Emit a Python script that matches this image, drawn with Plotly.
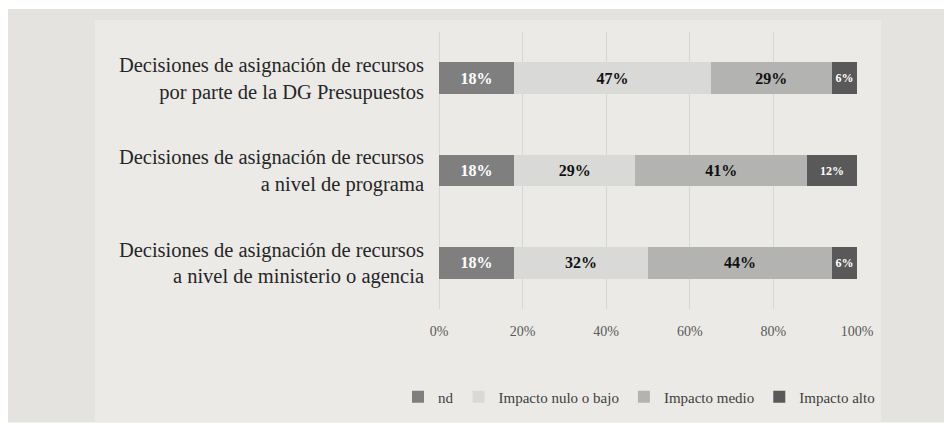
import plotly.graph_objects as go

categories = [
    "Decisiones de asignación de recursos<br>por parte de la DG Presupuestos",
    "Decisiones de asignación de recursos<br>a nivel de programa",
    "Decisiones de asignación de recursos<br>a nivel de ministerio o agencia",
]
series_names = ["nd", "Impacto nulo o bajo", "Impacto medio", "Impacto alto"]
nd = [18, 18, 18]
nulo_bajo = [47, 29, 32]
medio = [29, 41, 44]
alto = [6, 12, 6]
x_ticks = [0, 20, 40, 60, 80, 100]
x_tick_labels = ["0%", "20%", "40%", "60%", "80%", "100%"]

colors = ["#7f7f7f", "#d9d9d8", "#b3b3b1", "#595959"]
text_colors = ["#ffffff", "#111111", "#111111", "#ffffff"]
text_sizes = [16, 16, 16, 12]
FONT = "Liberation Serif"

W, H = 944, 424
L, R, T, B = 439, 857, 32, 310  # plot area in px


def px(x):
    return (x - L) / (R - L)


def py(y):
    return (B - y) / (B - T)


fig = go.Figure()
for name, vals, c, tc, ts in zip(series_names, [nd, nulo_bajo, medio, alto], colors, text_colors, text_sizes):
    fig.add_trace(go.Bar(
        y=categories, x=vals, name=name, orientation="h",
        marker=dict(color=c, line=dict(width=0)),
        text=[f"{v}%" for v in vals], textposition="inside",
        insidetextanchor="middle",
        textfont=dict(family=FONT, size=ts, color=tc, weight="bold"),
        hoverinfo="skip",
    ))

fig.update_layout(
    width=W, height=H,
    barmode="stack", bargap=0.655,
    paper_bgcolor="#ffffff", plot_bgcolor="rgba(0,0,0,0)",
    margin=dict(l=L, r=W - R, t=T, b=H - B, pad=0),
    font=dict(family=FONT, color="#262626"),
    showlegend=True,
    legend=dict(orientation="h", xref="paper", yref="paper",
                x=px(398), xanchor="left", y=py(397), yanchor="middle",
                font=dict(family=FONT, size=15, color="#404040"),
                traceorder="normal", bgcolor="rgba(0,0,0,0)", itemwidth=30),
    shapes=[
        dict(type="rect", xref="paper", yref="paper", x0=px(8), x1=px(944), y0=py(9), y1=py(424),
             fillcolor="#e4e3df", line=dict(width=0), layer="below"),
        dict(type="rect", xref="paper", yref="paper", x0=px(95), x1=px(881), y0=py(20), y1=py(424),
             fillcolor="#ebeae6", line=dict(width=0), layer="below"),
    ],
)
fig.update_xaxes(range=[0, 100], tickvals=x_ticks, ticktext=x_tick_labels,
                 showgrid=True, gridcolor="#d6d6d4", gridwidth=1,
                 zeroline=True, zerolinecolor="#d6d6d4", zerolinewidth=1,
                 showline=False, ticks="", ticklabelstandoff=12,
                 tickfont=dict(family=FONT, size=14, color="#595959"), fixedrange=True)
fig.update_yaxes(autorange="reversed", showgrid=False, zeroline=False, showline=False,
                 ticks="", ticklabelstandoff=14,
                 tickfont=dict(family=FONT, size=20.5, color="#262626"), fixedrange=True)

fig.write_html("out.html", config={"displayModeBar": False},
               post_script="document.body.style.margin='0';document.body.style.overflow='hidden';")
